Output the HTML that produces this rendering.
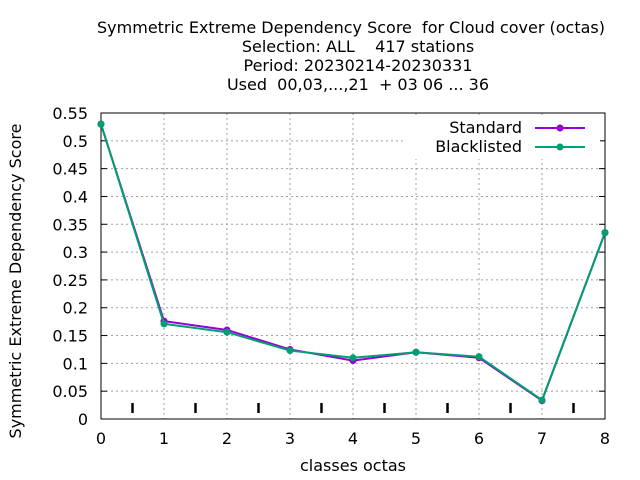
<!DOCTYPE html>
<html><head><meta charset="utf-8"><style>
body{margin:0;background:#fff}
svg{display:block;font-family:"DejaVu Sans","Liberation Sans",sans-serif}
text{white-space:pre}
</style></head><body>
<svg id="c" width="640" height="480" xml:space="preserve">
<g font-size="16" text-anchor="middle" fill="#000">
<text x="351" y="33">Symmetric Extreme Dependency Score  for Cloud cover (octas)</text>
<text x="358" y="52">Selection: ALL    417 stations</text>
<text x="358" y="71">Period: 20230214-20230331</text>
<text x="358" y="90">Used  00,03,...,21  + 03 06 ... 36</text>
</g>
<text x="21" y="281" font-size="16" text-anchor="middle" transform="rotate(-90 21 281)">Symmetric Extreme Dependency Score</text>
<text x="353" y="471" font-size="16" text-anchor="middle">classes octas</text>
<g id="grid"></g><g id="axes"></g><g id="series"></g>
<g font-size="16" text-anchor="end">
<rect x="405" y="115" width="195" height="44" fill="#fff"/>
<g><text x="522" y="133">Standard</text>
<line x1="535" y1="128" x2="585" y2="128" stroke="#9400d3" stroke-width="2"/><circle cx="560" cy="128" r="3.5" fill="#9400d3"/></g>
<g><text x="522" y="152">Blacklisted</text>
<line x1="535" y1="147" x2="585" y2="147" stroke="#009e73" stroke-width="2"/><circle cx="560" cy="147" r="3.5" fill="#009e73"/></g>
</g>
</svg>
<script>
const categories=[0,1,2,3,4,5,6,7,8];
const standard=[0.530,0.176,0.160,0.125,0.105,0.120,0.110,0.033,0.335];
const blacklisted=[0.530,0.171,0.156,0.123,0.110,0.120,0.112,0.034,0.335];
const yTicks=[0,0.05,0.1,0.15,0.2,0.25,0.3,0.35,0.4,0.45,0.5,0.55];
const NS="http://www.w3.org/2000/svg";
const L=101,R=605,T=113,B=419;
const xs=v=>L+(R-L)*v/8, ys=v=>B-(B-T)*v/0.55;
function mk(tag,at,p){const e=document.createElementNS(NS,tag);for(const k in at)e.setAttribute(k,at[k]);p.appendChild(e);return e;}
const grid=document.getElementById('grid'),axes=document.getElementById('axes'),ser=document.getElementById('series');
yTicks.forEach(t=>{const y=ys(t);
 if(t>0){const g=mk('line',{x1:L,x2:R,y1:y,y2:y,stroke:'#a0a0a0','stroke-dasharray':'2,3'},grid);
 
 }
 const tx=mk('text',{x:L-13,y:y+6,'font-size':16,'text-anchor':'end'},axes);tx.textContent=String(t);
 
 
 mk('line',{x1:L,x2:L+6,y1:y,y2:y,stroke:'#000'},axes);mk('line',{x1:R,x2:R-6,y1:y,y2:y,stroke:'#000'},axes);
});
categories.forEach(c=>{const x=xs(c);
 if(c>0&&c<8){const g=mk('line',{x1:x,x2:x,y1:T,y2:B,stroke:'#a0a0a0','stroke-dasharray':'2,3'},grid);
 
 }
 const tx=mk('text',{x:x,y:B+25,'font-size':16,'text-anchor':'middle'},axes);tx.textContent=String(c);
 
 
 if(c<8)mk('line',{x1:xs(c+0.5),x2:xs(c+0.5),y1:B-16,y2:B-6,stroke:'#000','stroke-width':2.5},axes);
});
const box=mk('rect',{x:L,y:T,width:R-L,height:B-T,fill:'none',stroke:'#000','stroke-width':1},axes);


[[standard,'#9400d3','standard'],[blacklisted,'#009e73','blacklisted']].forEach(([d,col,n])=>{
 const g=mk('g',{},ser);
 
 
 mk('polyline',{points:d.map((v,i)=>xs(categories[i])+','+ys(v)).join(' '),fill:'none',stroke:col,'stroke-width':2},g);
 d.forEach((v,i)=>{const p=mk('circle',{cx:xs(categories[i]),cy:ys(v),r:3.5,fill:col},g);
 
 });
});
</script>
</body></html>
